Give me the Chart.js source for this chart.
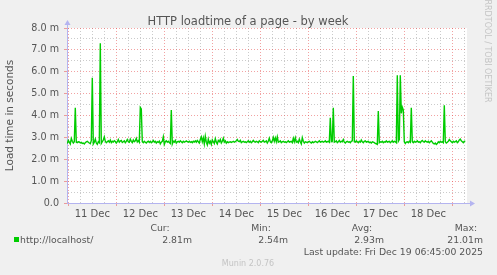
<!DOCTYPE html>
<html>
<head>
<meta charset="utf-8">
<script src="https://cdn.jsdelivr.net/npm/chart.js@4.4.1/dist/chart.umd.min.js"></script>
<style>
  html, body { margin: 0; padding: 0; background: #f0f0f0; }
  canvas { display: block; }
</style>
</head>
<body>
<canvas id="loadtime" width="497" height="275"></canvas>
<script>
// half-hour samples; x is counted in half-hours from Dec 11 00:00
const firstSample = -1;
const loadTimes = [
  2.72, 2.86, 2.78, 2.70, 2.95, 2.82, 2.74, 2.80, 4.35, 2.78, 2.76, 2.80, 2.79, 2.75, 2.77, 2.72, 2.74, 2.70, 2.76, 2.80,
  2.82, 2.78, 2.74, 2.71, 2.85, 5.72, 2.70, 2.78, 2.92, 2.74, 2.68, 2.80, 2.76, 7.30, 2.72, 2.80, 2.88, 3.02, 2.82, 2.76,
  2.80, 2.84, 2.78, 2.88, 2.76, 2.82, 2.79, 2.85, 2.81, 2.74, 2.80, 2.90, 2.78, 2.83, 2.86, 2.77, 2.80, 2.84, 2.76, 2.82,
  2.90, 2.80, 2.78, 2.92, 2.82, 2.76, 2.88, 2.80, 2.84, 2.95, 2.79, 2.85, 2.78, 4.37, 4.30, 2.80, 2.76, 2.82, 2.78, 2.74,
  2.80, 2.83, 2.77, 2.82, 2.76, 2.80, 2.86, 2.78, 2.82, 2.74, 2.80, 2.77, 2.83, 2.70, 2.78, 2.82, 3.03, 2.68, 2.80, 2.84,
  2.78, 2.82, 2.76, 2.72, 4.25, 2.70, 2.82, 2.78, 2.86, 2.74, 2.80, 2.82, 2.78, 2.84, 2.80, 2.76, 2.82, 2.78, 2.80, 2.84,
  2.80, 2.78, 2.82, 2.77, 2.80, 2.76, 2.82, 2.79, 2.84, 2.78, 2.86, 2.80, 2.74, 2.90, 3.02, 2.80, 2.98, 2.70, 3.05, 2.78,
  2.66, 2.92, 2.74, 2.82, 2.68, 2.88, 2.80, 2.72, 2.94, 2.78, 2.70, 2.86, 2.80, 2.90, 2.74, 2.82, 2.96, 2.78, 2.84, 2.74,
  2.80, 2.76, 2.78, 2.80, 2.77, 2.79, 2.82, 2.78, 2.80, 2.84, 2.90, 2.82, 2.80, 2.86, 2.76, 2.80, 2.82, 2.78, 2.80, 2.76,
  2.80, 2.84, 2.78, 2.82, 2.76, 2.80, 2.86, 2.80, 2.78, 2.82, 2.80, 2.76, 2.84, 2.80, 2.78, 2.82, 2.86, 2.78, 2.80, 2.84,
  2.74, 2.82, 2.96, 2.80, 2.76, 2.84, 3.00, 2.82, 2.98, 2.80, 3.02, 2.78, 2.80, 2.84, 2.76, 2.80, 2.82, 2.78, 2.80, 2.76,
  2.80, 2.84, 2.78, 2.80, 2.82, 2.76, 2.96, 2.80, 2.98, 2.78, 2.82, 2.76, 2.92, 2.80, 2.70, 2.98, 2.82, 2.74, 2.80, 2.78,
  2.76, 2.80, 2.82, 2.78, 2.74, 2.80, 2.76, 2.78, 2.82, 2.80, 2.76, 2.80, 2.84, 2.78, 2.80, 2.82, 2.78, 2.80, 2.84, 2.78,
  2.80, 2.82, 2.78, 3.90, 2.80, 2.82, 4.35, 2.78, 2.80, 2.84, 2.76, 2.80, 2.86, 2.78, 2.82, 2.80, 2.90, 2.78, 2.74, 2.80,
  2.82, 2.78, 2.80, 2.76, 2.82, 2.84, 5.80, 2.80, 2.78, 2.84, 2.80, 2.76, 2.82, 2.78, 2.88, 2.80, 2.76, 2.82, 2.84, 2.78,
  2.80, 2.82, 2.76, 2.78, 2.74, 2.80, 2.78, 2.76, 2.72, 2.70, 2.68, 4.20, 2.76, 2.80, 2.78, 2.82, 2.76, 2.80, 2.78, 2.84,
  2.78, 2.80, 2.82, 2.76, 2.80, 2.84, 2.78, 2.82, 2.80, 2.76, 5.84, 2.82, 2.90, 5.84, 4.10, 4.38, 4.26, 2.80, 2.72, 2.78,
  2.80, 2.76, 2.82, 2.78, 4.35, 2.80, 2.76, 2.82, 2.78, 2.80, 2.84, 2.78, 2.80, 2.76, 2.82, 2.86, 2.80, 2.78, 2.84, 2.80,
  2.78, 2.82, 2.76, 2.80, 2.84, 2.78, 2.72, 2.70, 2.74, 2.68, 2.72, 2.80, 2.76, 2.82, 2.78, 2.80, 2.76, 4.47, 2.80, 2.74,
  2.78, 2.82, 2.90, 2.84, 2.80, 2.76, 2.82, 2.78, 2.80, 2.84, 2.76, 2.80, 2.88, 2.92, 2.84, 2.80, 2.76, 2.82, 2.81
];
const dayLabels = ['11 Dec', '12 Dec', '13 Dec', '14 Dec', '15 Dec', '16 Dec', '17 Dec', '18 Dec'];
const legendHeads = ['Cur:', 'Min:', 'Avg:', 'Max:'];
const legendValues = ['2.81m', '2.54m', '2.93m', '21.01m'];
const seriesName = 'http://localhost/';
const lastUpdate = 'Last update: Fri Dec 19 06:45:00 2025';

const MAJOR = 'rgba(230, 70, 70, 0.5)';
const MINOR = 'rgba(140, 140, 140, 0.45)';
const AXIS = '#b4b4f0';
const TEXT = '#555555';
const FONT = 'DejaVu Sans';

Chart.defaults.font.family = FONT;

// background, title, legend and the little munin/rrdtool texts
const munin = {
  id: 'munin',
  beforeDraw(chart) {
    const { ctx, chartArea: a } = chart;
    ctx.save();
    ctx.fillStyle = '#f0f0f0';
    ctx.fillRect(0, 0, chart.width, chart.height);
    ctx.fillStyle = '#ffffff';
    ctx.fillRect(a.left, a.top, a.right - a.left, a.bottom - a.top);
    ctx.restore();
  },
  afterDraw(chart) {
    const { ctx, chartArea: a } = chart;
    ctx.save();
    // axis arrows
    ctx.fillStyle = AXIS;
    ctx.strokeStyle = AXIS;
    ctx.lineWidth = 1;
    ctx.beginPath();
    ctx.moveTo(a.left + 0.5, a.top);
    ctx.lineTo(a.left + 0.5, a.top - 3);
    ctx.moveTo(a.right, a.bottom + 0.5);
    ctx.lineTo(a.right + 3, a.bottom + 0.5);
    ctx.stroke();
    ctx.beginPath();
    ctx.moveTo(a.left + 0.5, a.top - 8);
    ctx.lineTo(a.left - 2.5, a.top - 3);
    ctx.lineTo(a.left + 3.5, a.top - 3);
    ctx.fill();
    ctx.beginPath();
    ctx.moveTo(a.right + 8, a.bottom + 0.5);
    ctx.lineTo(a.right + 3, a.bottom - 2.5);
    ctx.lineTo(a.right + 3, a.bottom + 3.5);
    ctx.fill();

    // title
    ctx.fillStyle = TEXT;
    ctx.textAlign = 'center';
    ctx.textBaseline = 'alphabetic';
    ctx.font = '11.5px "' + FONT + '"';
    ctx.fillText('HTTP loadtime of a page - by week', 248, 25);

    // legend
    ctx.font = '9.3px "' + FONT + '"';
    const headX = [160, 261, 362, 466];
    const valX = [192, 288, 384, 483];
    legendHeads.forEach((h, i) => ctx.fillText(h, headX[i], 231));
    ctx.textAlign = 'right';
    legendValues.forEach((v, i) => ctx.fillText(v, valX[i], 243));
    ctx.fillText(lastUpdate, 483, 255);
    ctx.textAlign = 'left';
    ctx.fillText(seriesName, 20, 243);
    ctx.fillStyle = '#00cc00';
    ctx.fillRect(14, 237, 5, 5);

    // footer
    ctx.fillStyle = '#c4c4c4';
    ctx.textAlign = 'center';
    ctx.font = '8px "' + FONT + '"';
    ctx.fillText('Munin 2.0.76', 248, 266);
    ctx.translate(487, 51);
    ctx.rotate(Math.PI / 2);
    ctx.textBaseline = 'middle';
    ctx.fillText('RRDTOOL / TOBI OETIKER', 0, 0);
    ctx.restore();
  }
};

const points = loadTimes.map((v, i) => ({ x: firstSample + i, y: v }));

new Chart(document.getElementById('loadtime'), {
  type: 'line',
  data: {
    datasets: [{
      label: seriesName,
      data: points,
      borderColor: '#00cc00',
      borderWidth: 1.4,
      pointRadius: 0,
      tension: 0,
      fill: false
    }]
  },
  options: {
    responsive: false,
    animation: false,
    events: [],
    layout: { padding: { top: 28, right: 30, left: 0, bottom: 0 } },
    plugins: { legend: { display: false }, tooltip: { enabled: false } },
    scales: {
      x: {
        type: 'linear',
        min: -1.3,
        max: 398.7,
        afterBuildTicks: s => {
          const t = [];
          for (let v = 0; v <= 396; v += 12) t.push({ value: v });
          s.ticks = t;
        },
        afterFit: s => { s.height = 72; },
        ticks: {
          autoSkip: false,
          maxRotation: 0,
          padding: 2,
          color: TEXT,
          font: { size: 10 },
          callback: v => (v % 48 === 24 ? dayLabels[(v - 24) / 48] : '')
        },
        grid: {
          color: c => (c.tick && c.tick.value % 48 === 0 ? MAJOR : MINOR),
          tickColor: c => (c.tick && c.tick.value % 48 === 0 ? MAJOR : 'rgba(0,0,0,0)'),
          tickLength: 3,
          lineWidth: 1
        },
        border: { color: AXIS, width: 1, dash: [1, 2] }
      },
      y: {
        min: 0,
        max: 8,
        afterBuildTicks: s => {
          const t = [];
          for (let v = 0; v <= 8; v += 0.5) t.push({ value: v });
          s.ticks = t;
        },
        afterFit: s => { s.width = 67; },
        ticks: {
          autoSkip: false,
          padding: 5,
          color: TEXT,
          font: { size: 9.6 },
          callback: v => (v % 1 !== 0 ? '' : v === 0 ? '0.0' : v.toFixed(1) + ' m')
        },
        grid: {
          color: c => (c.tick && c.tick.value % 1 === 0 ? MAJOR : MINOR),
          tickColor: c => (c.tick && c.tick.value % 1 === 0 ? MAJOR : 'rgba(0,0,0,0)'),
          tickLength: 3,
          lineWidth: 1
        },
        border: { color: AXIS, width: 1, dash: [1, 2] },
        title: {
          display: true,
          text: 'Load time in seconds',
          color: TEXT,
          font: { size: 10.5 },
          padding: { top: 4, bottom: 0 }
        }
      }
    }
  },
  plugins: [munin]
});
</script>
</body>
</html>
